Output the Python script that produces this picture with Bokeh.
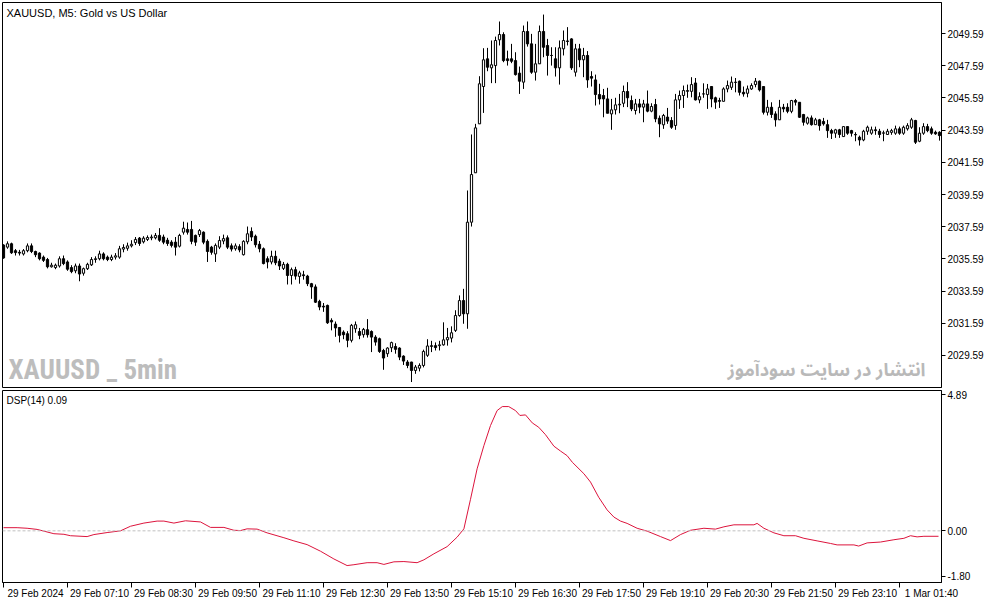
from bokeh.plotting import figure
from bokeh.models import ColumnDataSource, FixedTicker, Span, Label, Range1d, PrintfTickFormatter
from bokeh.layouts import column
from bokeh.embed import file_html
from bokeh.resources import INLINE

# XAUUSD M5 candles, one entry per bar from 29 Feb 2024 05:50
opens = [
    2036.45, 2036.32, 2036.53, 2036.10, 2036.00, 2035.90, 2036.10, 2036.40, 2036.05, 2035.95,
    2035.70, 2035.55, 2035.10, 2035.05, 2035.15, 2035.60, 2035.40, 2035.05, 2034.85, 2035.15,
    2034.70, 2034.98, 2035.22, 2035.55, 2035.60, 2035.90, 2035.70, 2035.55, 2035.70, 2035.70,
    2036.20, 2036.25, 2036.40, 2036.60, 2036.88, 2036.65, 2036.80, 2036.90, 2036.90, 2037.05,
    2036.95, 2036.75, 2036.63, 2036.63, 2036.38, 2037.25, 2037.42, 2037.42, 2037.05, 2037.10,
    2037.25, 2036.68, 2036.32, 2035.90, 2036.32, 2036.70, 2036.90, 2036.40, 2036.22, 2036.35,
    2035.85, 2036.65, 2037.30, 2037.00, 2036.50, 2036.22, 2035.60, 2035.40, 2035.75, 2035.45,
    2035.00, 2035.25, 2034.56, 2034.92, 2034.50, 2034.60, 2034.52, 2034.05, 2033.85, 2032.95,
    2032.65, 2032.70, 2031.77, 2031.54, 2031.33, 2031.04, 2030.94, 2030.53, 2031.25, 2031.08,
    2030.88, 2031.19, 2031.08, 2030.73, 2030.63, 2029.90, 2029.70, 2030.07, 2030.15, 2030.05,
    2029.55, 2029.18, 2029.18, 2028.66, 2028.80, 2028.97, 2029.60, 2030.15, 2030.20, 2030.20,
    2030.25, 2030.56, 2030.67, 2031.15, 2032.07, 2033.00, 2032.18, 2037.87, 2040.94, 2043.98,
    2046.30, 2048.02, 2047.46, 2047.60, 2049.20, 2049.53, 2048.02, 2048.02, 2047.91, 2047.13,
    2046.57, 2049.72, 2048.95, 2047.19, 2047.71, 2049.72, 2048.85, 2048.23, 2048.02, 2047.46,
    2048.64, 2049.13, 2049.26, 2047.19, 2048.64, 2047.96, 2048.23, 2046.92, 2046.71, 2045.80,
    2045.74, 2045.53, 2044.60, 2044.85, 2045.16, 2045.26, 2045.99, 2045.43, 2044.81, 2045.22,
    2045.02, 2045.22, 2044.77, 2045.18, 2044.33, 2043.92, 2044.40, 2044.19, 2043.88, 2045.47,
    2045.74, 2046.00, 2046.00, 2046.52, 2045.47, 2045.84, 2045.80, 2046.30, 2045.60, 2045.43,
    2045.38, 2046.15, 2046.25, 2046.55, 2046.63, 2045.94, 2045.88, 2046.15, 2046.42, 2046.63,
    2046.30, 2044.70, 2045.01, 2044.60, 2044.23, 2045.01, 2045.01, 2044.76, 2045.43, 2045.32,
    2044.56, 2044.02, 2044.35, 2043.93, 2044.23, 2044.13, 2043.93, 2043.56, 2043.40, 2043.61,
    2043.19, 2043.81, 2043.56, 2043.32, 2043.15, 2042.98, 2043.52, 2043.40, 2043.61, 2043.52,
    2043.40, 2043.32, 2043.45, 2043.40, 2043.67, 2043.40, 2043.67, 2043.77, 2044.19, 2042.90,
    2043.40, 2043.81, 2043.67, 2043.46, 2043.46,
]
highs = [
    2036.50, 2036.68, 2036.60, 2036.20, 2036.15, 2036.20, 2036.55, 2036.55, 2036.10, 2036.00,
    2035.80, 2035.65, 2035.35, 2035.30, 2035.75, 2035.80, 2035.50, 2035.20, 2035.30, 2035.30,
    2035.05, 2035.35, 2035.70, 2035.75, 2036.10, 2036.00, 2035.80, 2035.85, 2035.95, 2036.40,
    2036.50, 2036.60, 2036.75, 2036.95, 2036.95, 2037.00, 2037.05, 2037.10, 2037.20, 2037.50,
    2037.10, 2036.90, 2036.75, 2036.95, 2037.15, 2037.90, 2037.85, 2037.95, 2037.10, 2037.45,
    2037.30, 2036.80, 2036.40, 2036.55, 2037.00, 2037.10, 2037.05, 2036.55, 2036.55, 2036.50,
    2036.75, 2037.60, 2037.55, 2037.10, 2036.70, 2036.30, 2035.75, 2036.10, 2036.10, 2035.60,
    2035.40, 2035.35, 2035.05, 2035.10, 2034.85, 2034.85, 2034.60, 2034.10, 2034.00, 2033.05,
    2032.85, 2032.75, 2031.90, 2031.70, 2031.35, 2031.15, 2031.10, 2031.55, 2031.70, 2031.30,
    2031.30, 2031.85, 2031.15, 2030.85, 2030.70, 2030.00, 2030.10, 2030.45, 2030.35, 2030.10,
    2029.60, 2029.30, 2029.20, 2029.00, 2029.10, 2029.95, 2030.60, 2030.50, 2030.40, 2030.50,
    2031.65, 2031.30, 2031.40, 2032.40, 2033.32, 2033.73, 2039.84, 2043.32, 2043.98, 2046.94,
    2048.68, 2048.70, 2049.16, 2049.40, 2050.34, 2049.67, 2048.53, 2048.95, 2048.43, 2047.54,
    2050.09, 2050.34, 2049.57, 2048.95, 2050.09, 2050.77, 2049.26, 2048.74, 2048.74, 2049.16,
    2049.78, 2049.99, 2049.30, 2048.95, 2048.95, 2048.70, 2048.50, 2047.25, 2047.04, 2046.47,
    2046.15, 2046.22, 2045.53, 2045.60, 2045.84, 2046.36, 2046.57, 2045.74, 2045.53, 2045.53,
    2045.47, 2046.05, 2045.26, 2045.53, 2044.50, 2044.60, 2044.97, 2044.40, 2045.84, 2046.05,
    2046.36, 2046.42, 2046.88, 2046.83, 2045.94, 2046.50, 2046.46, 2046.30, 2045.67, 2045.60,
    2046.25, 2046.67, 2046.92, 2046.83, 2046.67, 2046.30, 2046.36, 2046.50, 2046.83, 2046.67,
    2046.30, 2045.47, 2045.32, 2044.76, 2045.47, 2045.22, 2045.26, 2045.47, 2045.53, 2045.32,
    2044.60, 2044.43, 2044.50, 2044.35, 2044.29, 2044.35, 2044.23, 2043.67, 2043.67, 2043.67,
    2043.81, 2043.81, 2043.61, 2043.46, 2043.25, 2043.61, 2043.87, 2043.81, 2043.81, 2043.67,
    2043.56, 2043.67, 2043.67, 2043.87, 2043.81, 2043.87, 2044.02, 2044.35, 2044.23, 2043.77,
    2044.02, 2043.98, 2043.81, 2043.56, 2043.52,
]
lows = [
    2035.60, 2036.22, 2035.90, 2035.80, 2035.80, 2035.80, 2036.00, 2035.95, 2035.70, 2035.50,
    2035.40, 2035.00, 2035.05, 2034.95, 2035.05, 2035.20, 2034.85, 2034.70, 2034.70, 2034.20,
    2034.55, 2034.90, 2035.15, 2035.35, 2035.50, 2035.50, 2035.45, 2035.45, 2035.55, 2035.60,
    2036.00, 2036.10, 2036.30, 2036.45, 2036.40, 2036.55, 2036.70, 2036.75, 2036.80, 2036.65,
    2036.50, 2036.40, 2036.30, 2035.80, 2036.30, 2037.10, 2037.10, 2036.50, 2036.40, 2036.95,
    2036.50, 2035.40, 2035.85, 2035.40, 2036.20, 2036.50, 2036.20, 2036.05, 2036.10, 2036.00,
    2035.80, 2036.50, 2036.70, 2036.30, 2036.00, 2035.25, 2035.00, 2035.25, 2035.20, 2034.90,
    2034.90, 2034.00, 2034.00, 2034.30, 2034.05, 2034.30, 2033.90, 2033.11, 2032.85, 2032.40,
    2032.30, 2031.55, 2031.15, 2030.75, 2030.40, 2030.60, 2030.10, 2030.40, 2031.00, 2030.60,
    2030.70, 2030.70, 2029.80, 2030.20, 2029.75, 2028.70, 2029.50, 2029.80, 2029.70, 2029.30,
    2029.00, 2028.80, 2027.94, 2028.45, 2028.60, 2028.85, 2029.50, 2029.80, 2029.90, 2029.90,
    2030.20, 2030.20, 2030.40, 2031.05, 2032.00, 2031.56, 2031.25, 2037.60, 2040.94, 2043.98,
    2044.66, 2047.25, 2046.51, 2046.51, 2048.85, 2047.81, 2047.60, 2047.75, 2046.98, 2045.84,
    2046.15, 2048.78, 2047.09, 2046.67, 2047.71, 2048.12, 2046.98, 2047.60, 2046.92, 2046.42,
    2048.23, 2048.85, 2047.33, 2046.92, 2047.50, 2046.88, 2046.22, 2046.30, 2045.12, 2045.18,
    2044.39, 2044.64, 2043.61, 2044.56, 2044.64, 2045.02, 2045.02, 2044.77, 2044.56, 2044.64,
    2044.08, 2044.70, 2044.70, 2044.08, 2043.15, 2043.67, 2043.98, 2043.67, 2043.61, 2044.91,
    2044.97, 2045.60, 2045.63, 2045.43, 2045.26, 2045.60, 2044.91, 2045.01, 2044.91, 2044.97,
    2045.38, 2045.94, 2046.09, 2045.94, 2045.74, 2045.67, 2045.63, 2046.09, 2046.25, 2045.99,
    2044.56, 2044.50, 2044.35, 2043.81, 2044.23, 2044.70, 2044.64, 2044.64, 2045.12, 2044.35,
    2043.87, 2043.93, 2043.87, 2043.93, 2043.56, 2043.87, 2043.11, 2043.04, 2043.11, 2043.11,
    2043.19, 2043.30, 2043.19, 2042.90, 2042.63, 2042.90, 2043.30, 2043.30, 2043.30, 2043.11,
    2042.90, 2043.32, 2043.30, 2043.30, 2043.30, 2043.30, 2043.56, 2043.67, 2042.73, 2042.84,
    2043.30, 2043.46, 2043.30, 2043.30, 2042.94,
]
closes = [
    2035.65, 2036.53, 2035.97, 2035.98, 2035.95, 2036.10, 2036.40, 2036.05, 2035.85, 2035.60,
    2035.50, 2035.10, 2035.20, 2035.20, 2035.60, 2035.30, 2034.95, 2034.80, 2035.15, 2034.65,
    2034.98, 2035.25, 2035.55, 2035.60, 2035.90, 2035.60, 2035.55, 2035.70, 2035.78, 2036.22,
    2036.30, 2036.40, 2036.50, 2036.80, 2036.55, 2036.88, 2036.92, 2036.95, 2037.05, 2036.75,
    2036.63, 2036.55, 2036.43, 2036.32, 2037.05, 2037.50, 2037.25, 2036.68, 2036.63, 2037.35,
    2036.63, 2036.05, 2036.00, 2036.43, 2036.73, 2036.85, 2036.32, 2036.20, 2036.40, 2036.15,
    2036.68, 2037.15, 2036.95, 2036.47, 2036.22, 2035.30, 2035.40, 2035.75, 2035.35, 2035.15,
    2035.25, 2034.56, 2034.92, 2034.52, 2034.72, 2034.55, 2034.05, 2033.85, 2032.90, 2032.60,
    2032.60, 2031.62, 2031.67, 2031.30, 2030.84, 2030.88, 2030.53, 2031.46, 2031.50, 2030.84,
    2031.21, 2030.88, 2030.73, 2030.42, 2029.84, 2029.43, 2030.05, 2030.39, 2029.97, 2029.49,
    2029.24, 2028.97, 2028.66, 2028.87, 2028.97, 2029.84, 2030.18, 2030.20, 2030.08, 2030.25,
    2030.56, 2030.70, 2031.00, 2032.07, 2033.00, 2032.18, 2037.87, 2040.83, 2043.73, 2046.47,
    2047.96, 2047.50, 2047.65, 2049.16, 2049.53, 2047.91, 2047.91, 2047.87, 2047.04, 2046.63,
    2049.72, 2048.95, 2047.19, 2047.71, 2049.72, 2048.74, 2048.23, 2048.23, 2047.46, 2048.70,
    2049.16, 2049.10, 2047.46, 2048.64, 2047.96, 2048.23, 2046.71, 2046.82, 2045.80, 2045.53,
    2045.53, 2044.64, 2044.85, 2045.16, 2045.20, 2045.99, 2045.60, 2044.91, 2045.22, 2045.02,
    2045.22, 2044.77, 2045.06, 2044.29, 2043.98, 2044.50, 2044.15, 2043.77, 2045.47, 2045.74,
    2046.05, 2046.05, 2046.42, 2045.47, 2045.67, 2045.84, 2046.15, 2045.53, 2045.33, 2045.38,
    2046.15, 2046.36, 2046.57, 2046.57, 2045.94, 2045.84, 2046.15, 2046.36, 2046.63, 2046.09,
    2044.70, 2045.01, 2044.56, 2044.23, 2045.01, 2044.91, 2044.76, 2045.43, 2045.33, 2044.39,
    2044.08, 2044.35, 2043.93, 2044.23, 2043.87, 2043.98, 2043.56, 2043.40, 2043.61, 2043.32,
    2043.81, 2043.40, 2043.40, 2043.30, 2042.98, 2043.52, 2043.77, 2043.61, 2043.56, 2043.32,
    2043.42, 2043.52, 2043.56, 2043.67, 2043.40, 2043.77, 2043.87, 2044.23, 2042.84, 2043.40,
    2043.81, 2043.56, 2043.40, 2043.36, 2043.25,
]

# DSP(14) indicator as (bar, value) points
dsp_bar = [0, 3.4, 5.9, 8.4, 12.6, 15.1, 16.75, 20.9, 22.6, 25.9, 29.25, 31.75, 35.1, 38.4,
           40.1, 42.6, 45.5, 49.25, 51.75, 55.1, 57.6, 59.25, 60.9, 63.4, 65.9, 70.1, 72.6,
           75.9, 79.25, 82.6, 85.9, 87.6, 90.9, 93.4, 95.1, 97.6, 100.1, 103.4, 105.1, 107.6,
           110.9, 113.4, 115.1, 116.75, 118.4, 120.1, 121.75, 123.4, 124.7, 126.3, 128, 129.1,
           130.5, 132.2, 133.8, 135.5, 137.6, 139.25, 140.9, 142.2, 145.1, 146.75, 148.8, 150.9,
           152.6, 154.25, 155.9, 158.4, 160.9, 164.25, 166.75, 169.25, 171.75, 175.1, 178,
           180.1, 182.6, 187.6, 188.4, 190.1, 192.6, 195.1, 198, 200.1, 203.4, 206.75, 208.4,
           212.6, 213.8, 215.9, 219.25, 222.6, 225.1, 226.75, 228.4, 230.1, 233.75]
dsp_val = [0.11, 0.11, 0.09, 0.05, -0.10, -0.12, -0.17, -0.20, -0.13, -0.06, 0.0, 0.16, 0.27,
           0.34, 0.34, 0.27, 0.35, 0.31, 0.12, 0.12, 0.02, 0.01, 0.07, 0.06, -0.07, -0.24, -0.35,
           -0.48, -0.71, -0.98, -1.21, -1.18, -1.11, -1.11, -1.17, -1.08, -1.07, -1.11, -1.01,
           -0.80, -0.55, -0.22, 0.07, 1.1, 2.16, 2.97, 3.67, 4.19, 4.33, 4.33, 4.19, 4.02, 4.04,
           3.76, 3.61, 3.35, 2.95, 2.78, 2.62, 2.39, 1.99, 1.70, 1.17, 0.73, 0.48, 0.34, 0.26,
           0.09, -0.01, -0.20, -0.34, -0.13, 0.02, 0.09, 0.06, 0.14, 0.21, 0.21, 0.26, 0.09,
           -0.07, -0.17, -0.17, -0.26, -0.35, -0.44, -0.49, -0.49, -0.53, -0.42, -0.39, -0.31,
           -0.26, -0.17, -0.21, -0.19, -0.19]

# time axis (bar index of each label)
tick_bars = [0, 16, 32, 48, 64, 80, 96, 112, 128, 144, 160, 176, 192, 208, 224]
tick_labels = ["29 Feb 2024", "29 Feb 07:10", "29 Feb 08:30", "29 Feb 09:50", "29 Feb 11:10",
               "29 Feb 12:30", "29 Feb 13:50", "29 Feb 15:10", "29 Feb 16:30", "29 Feb 17:50",
               "29 Feb 19:10", "29 Feb 20:30", "29 Feb 21:50", "29 Feb 23:10", "1 Mar 01:40"]
price_ticks = [2029.59, 2031.59, 2033.59, 2035.59, 2037.59, 2039.59,
               2041.59, 2043.59, 2045.59, 2047.59, 2049.59]
dsp_ticks = [4.75, 0.0, -1.59]
dsp_tick_labels = ["4.89", "0.00", "-1.80"]

FONT = "Liberation Sans"
W = 994
MAIN_H = 385
SUB_H = 192
RIGHT = 53
LABEL_SHIFT = 8   # MT5 prints the date to the right of its tick

bars = list(range(len(closes)))
up = [i for i in bars if closes[i] >= opens[i]]
down = [i for i in bars if closes[i] < opens[i]]


def body_source(idx):
    return ColumnDataSource(data=dict(
        bar=idx,
        top=[max(opens[i], closes[i]) for i in idx],
        bottom=[min(opens[i], closes[i]) for i in idx],
    ))


wick_src = ColumnDataSource(data=dict(bar=bars, high=highs, low=lows))

xr = Range1d(-0.25, 234.5)

p = figure(width=W, height=MAIN_H + 3, x_range=xr, y_range=Range1d(2027.60, 2051.52),
           output_backend="svg", toolbar_location=None, x_axis_location=None,
           y_axis_location="right", min_border_left=2, min_border_right=RIGHT,
           min_border_top=2, min_border_bottom=1)
p.grid.visible = False
p.outline_line_color = "black"
p.outline_line_alpha = 1
p.background_fill_color = "white"
p.border_fill_color = "white"

p.segment(x0="bar", y0="low", x1="bar", y1="high", source=wick_src, line_color="black", line_width=1)
p.vbar(x="bar", width=0.55, top="top", bottom="bottom", source=body_source(up),
       fill_color="white", line_color="black", line_width=1)
p.vbar(x="bar", width=0.55, top="top", bottom="bottom", source=body_source(down),
       fill_color="black", line_color="black", line_width=1)

ya = p.yaxis[0]
ya.ticker = FixedTicker(ticks=price_ticks)
ya.formatter = PrintfTickFormatter(format="%.2f")
ya.major_tick_out = 4
ya.major_tick_in = 0
ya.minor_tick_line_color = None
ya.major_label_standoff = 2
ya.major_label_text_font = FONT
ya.major_label_text_font_size = "10px"
ya.major_label_text_color = "black"
ya.axis_line_color = "black"

p.add_layout(Label(x=4, y=MAIN_H - 4, x_units="screen", y_units="screen",
                   text="XAUUSD, M5:  Gold vs US Dollar", text_font=FONT,
                   text_font_size="11px", text_baseline="top", text_color="black"))
p.add_layout(Label(x=6, y=18, x_units="screen", y_units="screen", text="XAUUSD _ 5min",
                   text_font="'Roboto Condensed', Roboto, sans-serif",
                   text_font_style="bold", text_font_size="27px", text_color="#bdbdbd",
                   text_baseline="alphabetic"))
p.add_layout(Label(x=923, y=18, x_units="screen", y_units="screen",
                   text="انتشار در سایت سودآموز",
                   text_font="'Noto Sans Arabic', 'Noto Naskh Arabic', 'DejaVu Sans', sans-serif",
                   text_font_style="bold", text_font_size="18px", text_color="#b9b9b9",
                   text_align="right", text_baseline="alphabetic"))

q = figure(width=W, height=SUB_H + 23, x_range=xr, y_range=Range1d(-1.80, 4.89),
           output_backend="svg", toolbar_location=None, y_axis_location="right",
           min_border_left=2, min_border_right=RIGHT, min_border_top=2, min_border_bottom=21)
q.grid.visible = False
q.outline_line_color = "black"
q.outline_line_alpha = 1
q.background_fill_color = "white"
q.border_fill_color = "white"

q.add_layout(Span(location=0, dimension="width", line_color="#c0c0c0",
                  line_dash="3 2", line_width=1))
q.line(dsp_bar, dsp_val, line_color="#dc143c", line_width=1)

qy = q.yaxis[0]
qy.ticker = FixedTicker(ticks=dsp_ticks)
qy.major_label_overrides = dict(zip(dsp_ticks, dsp_tick_labels))
qy.major_tick_out = 4
qy.major_tick_in = 0
qy.minor_tick_line_color = None
qy.major_label_standoff = 2
qy.major_label_text_font = FONT
qy.major_label_text_font_size = "10px"
qy.major_label_text_color = "black"
qy.axis_line_color = "black"

label_pos = [b + LABEL_SHIFT for b in tick_bars]
qx = q.xaxis[0]
qx.ticker = FixedTicker(ticks=label_pos, minor_ticks=tick_bars)
qx.major_label_overrides = dict(zip(label_pos, tick_labels))
qx.major_tick_line_color = None
qx.major_tick_out = 1
qx.major_tick_in = 0
qx.minor_tick_out = 5
qx.minor_tick_in = 0
qx.minor_tick_line_color = "black"
qx.major_label_standoff = 0
qx.major_label_text_font = FONT
qx.major_label_text_font_size = "10px"
qx.major_label_text_color = "black"
qx.axis_line_color = "black"

q.add_layout(Label(x=4, y=SUB_H - 4, x_units="screen", y_units="screen",
                   text="DSP(14) 0.09", text_font=FONT, text_font_size="10px",
                   text_baseline="top", text_color="black"))

layout = column(p, q, spacing=0)
open("out.html", "w").write(file_html(layout, INLINE))
